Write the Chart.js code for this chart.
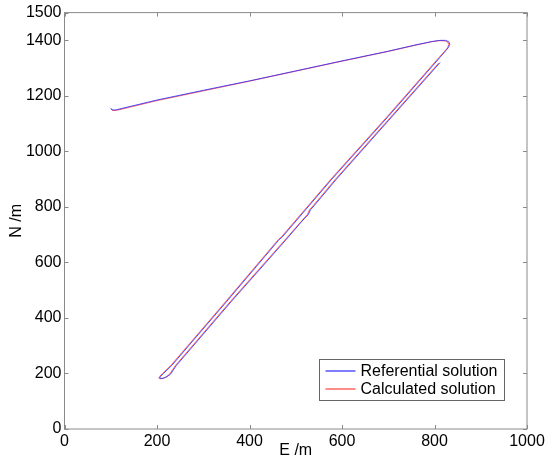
<!DOCTYPE html>
<html>
<head>
<meta charset="utf-8">
<script src="https://cdn.jsdelivr.net/npm/chart.js@4/dist/chart.umd.min.js"></script>
<style>
  html, body { margin: 0; padding: 0; background: #fff; }
  #wrap { width: 550px; height: 464px; }
</style>
</head>
<body>
<div id="wrap"><canvas id="grafik"></canvas></div>
<script>
// Referans cozum (mavi) - E ve N koordinatlari, yol sirasiyla
const refE = [100, 102, 106, 112, 200, 300, 400, 500, 600, 700, 760, 795, 812, 824, 831, 833, 830, 824, 812, 790, 700, 578, 470, 464, 462, 350, 232, 214, 208, 206, 209, 214, 221, 229, 242, 360, 477, 512, 521, 527, 532, 540, 588, 700, 812];
const refN = [1156, 1151, 1149, 1150, 1185, 1220, 1254, 1290, 1326, 1361, 1384, 1396, 1400, 1400, 1395, 1386, 1374, 1362, 1339, 1297, 1126, 900, 690, 683, 678, 458, 229, 200, 190, 184, 182, 183, 188, 197, 229, 458, 678, 746, 762, 772, 790, 805, 900, 1110, 1320];

// Hesaplanan cozum (kirmizi)
const calE = [101, 103, 107, 113, 200, 300, 400, 500, 600, 700, 760, 794, 811, 823, 829, 831, 828, 822, 810, 788, 698, 576, 468, 463, 460, 348, 230, 212, 206, 204, 207, 212, 219, 227, 240, 358, 475, 511, 519, 525, 530, 538, 586, 698, 809];
const calN = [1153, 1148, 1147, 1148, 1183, 1218, 1253, 1289, 1325, 1360, 1383, 1395, 1399, 1398, 1393, 1385, 1373, 1361, 1339, 1297, 1126, 900, 690, 683, 678, 458, 229, 200, 190, 183, 181, 182, 187, 197, 229, 458, 678, 746, 762, 772, 790, 805, 900, 1110, 1318];

const xTicks = [0, 200, 400, 600, 800, 1000];
const yTicks = [0, 200, 400, 600, 800, 1000, 1200, 1400, 1500];

const seriesLabels = ['Referential solution', 'Calculated solution'];
const seriesColors = ['rgba(40, 40, 255, 0.8)', 'rgba(255, 50, 50, 0.75)'];

const FONT = "'Liberation Sans', Arial, sans-serif";

function noktalar(eList, nList) {
    return eList.map((e, i) => ({ x: e, y: nList[i] }));
}

// MATLAB tarzi cerceve + iceri bakan tick cizgileri
const cerceve = {
    id: 'cerceve',
    afterDraw(chart) {
        const ctx = chart.ctx;
        const a = chart.chartArea;
        const xs = chart.scales.x, ys = chart.scales.y;
        const L = 4;
        ctx.save();
        ctx.strokeStyle = '#8a8a8a';
        ctx.lineWidth = 1;
        ctx.strokeRect(a.left, a.top, a.right - a.left, a.bottom - a.top);
        ctx.beginPath();
        xTicks.forEach(v => {
            const px = Math.round(xs.getPixelForValue(v)) + 0.5;
            ctx.moveTo(px, a.bottom); ctx.lineTo(px, a.bottom - L);
            ctx.moveTo(px, a.top); ctx.lineTo(px, a.top + L);
        });
        yTicks.forEach(v => {
            const py = Math.round(ys.getPixelForValue(v)) + 0.5;
            ctx.moveTo(a.left, py); ctx.lineTo(a.left + L, py);
            ctx.moveTo(a.right, py); ctx.lineTo(a.right - L, py);
        });
        ctx.stroke();

        // lejant kutusu (grafik alaninin icinde, sag alt)
        const bx = 319.5, by = 359.5, bw = 185, bh = 41;
        ctx.fillStyle = '#fff';
        ctx.fillRect(bx, by, bw, bh);
        ctx.strokeStyle = '#666';
        ctx.strokeRect(bx, by, bw, bh);
        ctx.font = '16px ' + FONT;
        ctx.textBaseline = 'middle';
        ctx.textAlign = 'left';
        chart.data.datasets.forEach((ds, i) => {
            const y = by + 11.5 + i * 18;
            ctx.strokeStyle = ds.borderColor;
            ctx.lineWidth = 1.5;
            ctx.beginPath();
            ctx.moveTo(bx + 6, y); ctx.lineTo(bx + 36, y);
            ctx.stroke();
            ctx.fillStyle = '#000';
            ctx.fillText(ds.label, bx + 41, y + 1);
        });
        ctx.restore();
    }
};

new Chart(document.getElementById('grafik'), {
    type: 'scatter',
    data: {
        datasets: [
            { label: seriesLabels[0], data: noktalar(refE, refN), borderColor: seriesColors[0] },
            { label: seriesLabels[1], data: noktalar(calE, calN), borderColor: seriesColors[1] }
        ].map(d => Object.assign(d, { showLine: true, pointRadius: 0, borderWidth: 1, tension: 0, fill: false }))
    },
    options: {
        responsive: true,
        maintainAspectRatio: false,
        animation: false,
        layout: { padding: { top: 11, right: 23, left: 0, bottom: 0 } },
        plugins: {
            legend: { display: false },
            tooltip: { enabled: false }
        },
        scales: {
            x: {
                type: 'linear', min: 0, max: 1000,
                afterBuildTicks: s => { s.ticks = xTicks.map(v => ({ value: v })); },
                afterFit: s => { s.height = 35; },
                grid: { display: false, drawTicks: false },
                border: { display: false },
                ticks: { color: '#000', font: { family: FONT, size: 16 }, padding: 3, maxRotation: 0, callback: v => String(v) },
                title: { display: true, text: 'E /m', color: '#000', font: { family: FONT, size: 16 }, padding: { top: 1 } }
            },
            y: {
                type: 'linear', min: 0, max: 1500,
                afterBuildTicks: s => { s.ticks = yTicks.map(v => ({ value: v })); },
                afterFit: s => { s.width = 64.5; },
                grid: { display: false, drawTicks: false },
                border: { display: false },
                ticks: { color: '#000', font: { family: FONT, size: 16 }, padding: 3, callback: v => String(v) },
                title: { display: true, text: 'N /m', color: '#000', font: { family: FONT, size: 16 }, padding: { top: 7 } }
            }
        }
    },
    plugins: [cerceve]
});
</script>
</body>
</html>
